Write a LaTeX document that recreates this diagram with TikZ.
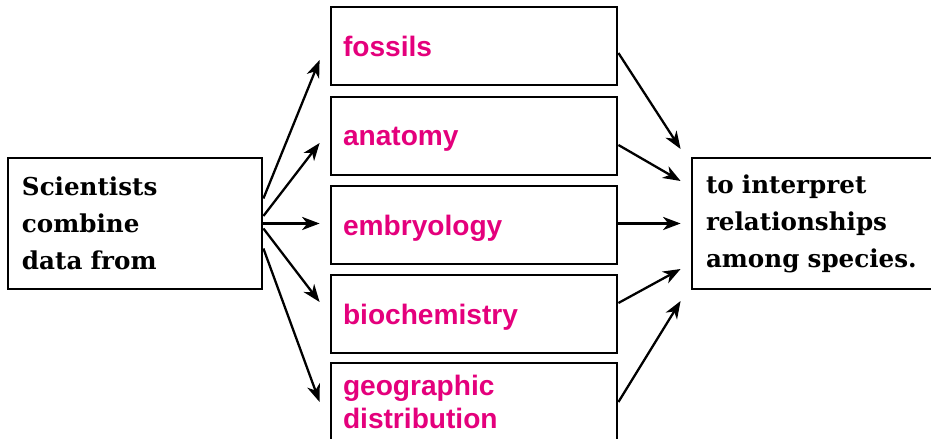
\documentclass[tikz,border=0pt]{standalone}
\usepackage{fontspec}
\newfontfamily\slabfont{DejaVu Serif}
\newfontfamily\headfont{Liberation Sans}
\usetikzlibrary{positioning,arrows.meta}
\definecolor{fieldmag}{RGB}{228,0,124}

\begin{document}
\begin{tikzpicture}[
    >={Stealth[length=10pt,width=7.5pt,inset=3pt]},
    outer/.style={draw, line width=1.6pt, text width=4.52cm, inner xsep=0.28cm,
      minimum height=2.62cm, align=left,
      font=\slabfont\bfseries\fontsize{14}{21}\selectfont},
    field/.style={draw, line width=1.6pt, text width=5.24cm, inner xsep=0.24cm,
      minimum height=1.56cm, align=left, text=fieldmag,
      font=\headfont\bfseries\fontsize{16}{18.7}\selectfont},
    fieldword/.style={field, text depth=0pt},
    link/.style={->, line width=1.3pt}
  ]
  \useasboundingbox (0,0) rectangle (18.62,8.78);

  % nodi
  \node[outer] (sci) at (2.70,4.31) {Scientists\\combine\\data from};

  \node[fieldword] (fos) at (9.48,7.86) {fossils};
  \node[fieldword] (ana) at (9.48,6.06) {anatomy};
  \node[fieldword] (emb) at (9.48,4.28) {embryology};
  \node[fieldword] (bio) at (9.48,2.50) {biochemistry};
  \node[field] (geo) at (9.48,0.74) {geographic\\distribution};

  \node[outer] (rel) at (16.38,4.31) {to interpret\\relationships\\among species.};

  % collegamenti a sinistra
  \draw[link] ([yshift=0.5cm]sci.east) -- ([xshift=-0.2cm,yshift=-0.28cm]fos.west);
  \draw[link] ([yshift=0.15cm]sci.east) -- ([xshift=-0.2cm,yshift=-0.14cm]ana.west);
  \draw[link] (sci.east) -- ([xshift=-0.2cm]sci.east -| emb.west);
  \draw[link] ([yshift=-0.1cm]sci.east) -- ([xshift=-0.2cm,yshift=0.24cm]bio.west);
  \draw[link] ([yshift=-0.5cm]sci.east) -- ([xshift=-0.2cm]geo.west);

  % collegamenti a destra
  \draw[link] ([yshift=-0.14cm]fos.east) -- ([xshift=-0.2cm,yshift=1.49cm]rel.west);
  \draw[link] ([yshift=-0.18cm]ana.east) -- ([xshift=-0.2cm,yshift=0.85cm]rel.west);
  \draw[link] (rel.west -| emb.east) -- ([xshift=-0.2cm]rel.west);
  \draw[link] ([yshift=0.22cm]bio.east) -- ([xshift=-0.2cm,yshift=-0.91cm]rel.west);
  \draw[link] (geo.east) -- ([xshift=-0.2cm,yshift=-1.55cm]rel.west);

\end{tikzpicture}
\end{document}
